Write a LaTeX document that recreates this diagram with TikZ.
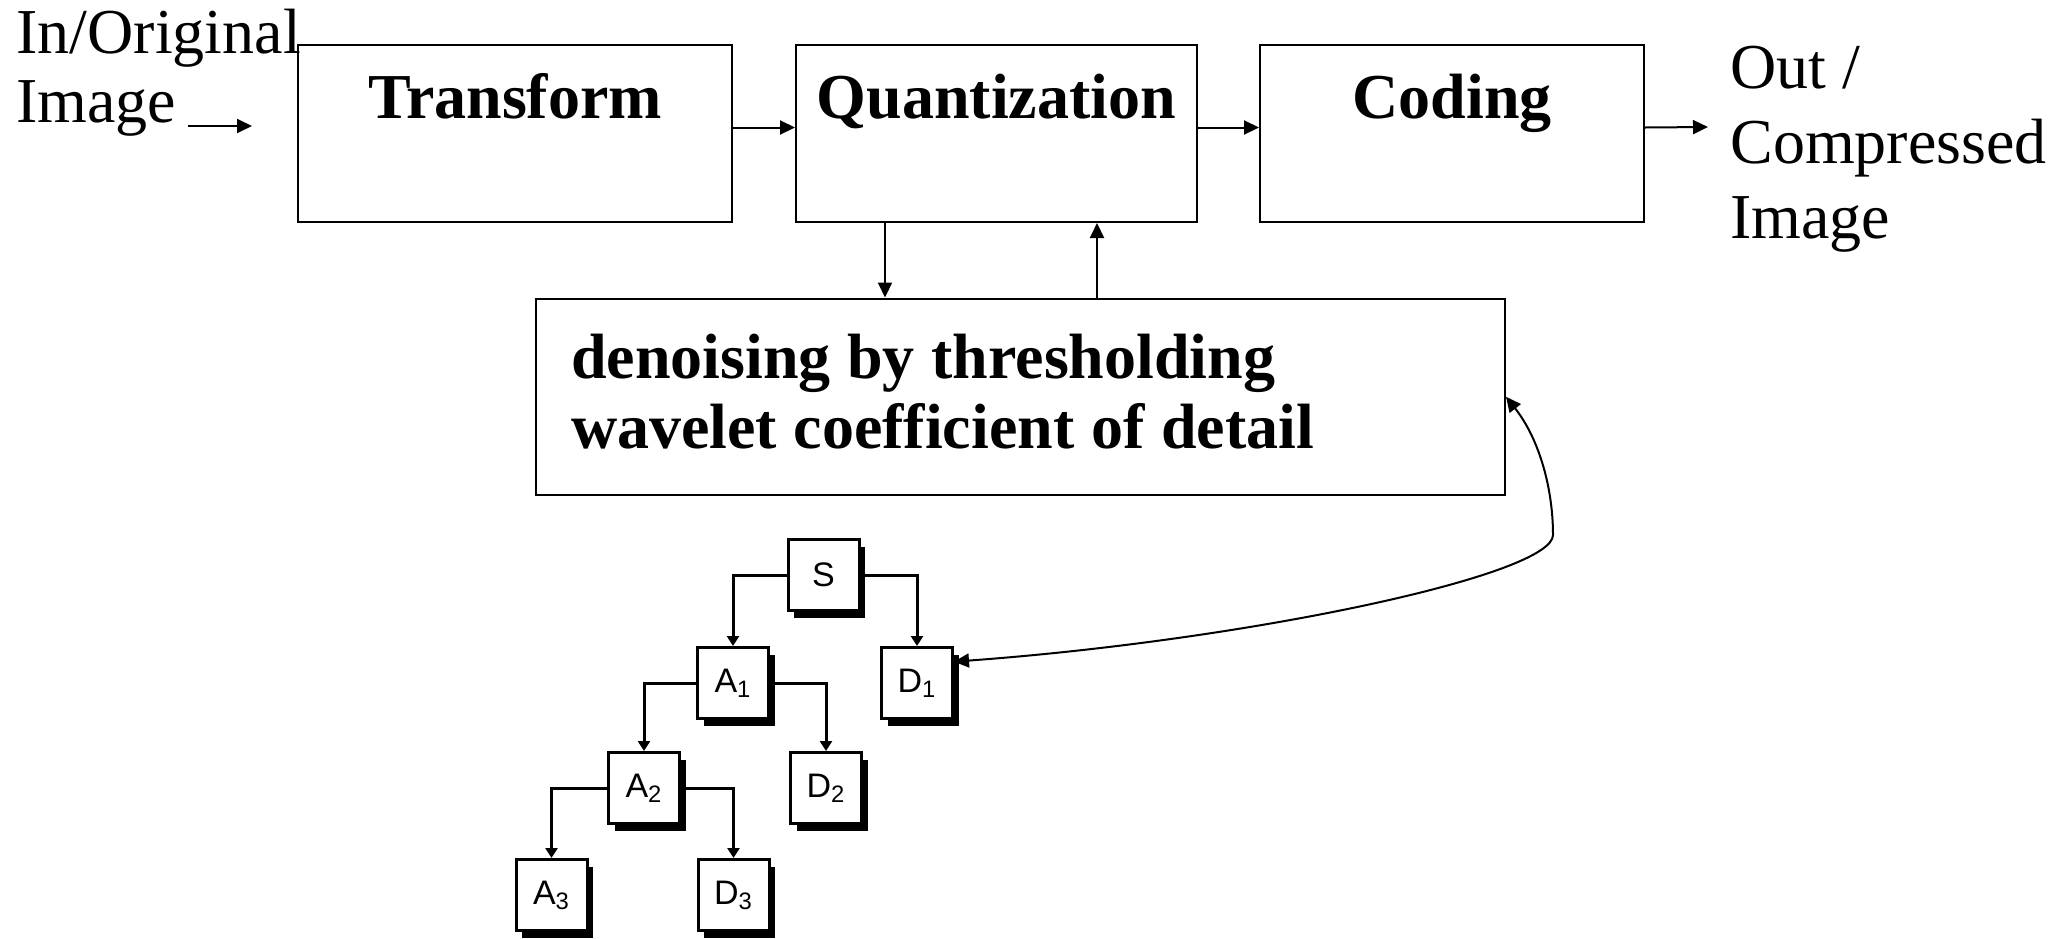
\documentclass[tikz,border=0pt]{standalone}
\usepackage{fontspec}
\setmainfont{Liberation Serif}
\setsansfont{Liberation Sans}
\usetikzlibrary{arrows.meta}
\usetikzlibrary{shadows}

\begin{document}
\begin{tikzpicture}[x=0.5pt, y=-0.5pt,
  bloc/.style={draw, line width=1pt, inner sep=0pt, minimum height=88.5pt,
    font=\fontsize{32}{35}\selectfont\bfseries, text height=22pt, text depth=37.5pt},
  fleche/.style={line width=1pt, -{Triangle[length=7.5pt,width=7pt]}},
  feuille/.style={draw, line width=1.5pt, fill=white, inner sep=0pt, minimum size=35.5pt,
    font=\sffamily\fontsize{17}{20}\selectfont,
    drop shadow={shadow xshift=3pt, shadow yshift=-3.5pt, opacity=1, fill=black}},
  branche/.style={line width=1.5pt, -{Triangle[length=5pt,width=6pt]}},
  legende/.style={align=left, inner sep=0pt, anchor=base west}]

  \useasboundingbox (0,0) rectangle (2071,938);

  % Chaîne de compression
  \node[bloc, minimum width=217pt] (tr) at (515,133.5) {Transform};
  \node[bloc, minimum width=200.5pt] (qu) at (996.5,133.5) {Quantization};
  \node[bloc, minimum width=192pt] (cd) at (1452,133.5) {Coding};
  \node[bloc, minimum width=484.5pt, minimum height=98.25pt, align=left,
        text width=449.5pt, inner xsep=17.5pt, text height=22pt, text depth=40pt]
    (dn) at (1020.5,396.75) {\spaceskip=0.26em denoising by thresholding\\wavelet coefficient of detail};

  % Entrée et sortie (ancre sur la dernière ligne)
  \node[legende, font=\fontsize{32}{34.5}\selectfont] (entree) at (16,122) {In/Original\\Image};
  \node[legende, font=\fontsize{32}{37.5}\selectfont] (sortie) at (1730,238) {Out /\\Compressed\\Image};
  \coordinate (inA) at (188,126);
  \coordinate (inB) at (252,126);
  \coordinate (outB) at (1708,127);

  \draw[fleche] (inA) -- (inB);
  \draw[fleche] ([yshift=3pt]tr.east) -- ([yshift=3pt]qu.west);
  \draw[fleche] ([yshift=3pt]qu.east) -- ([yshift=3pt]cd.west);
  \draw[fleche] ([yshift=3pt]cd.east) -- (outB);
  \draw[fleche] ([xshift=-55.75pt]qu.south) -- ([xshift=-55.75pt]qu.south |- dn.north);
  \draw[fleche] ([xshift=50.25pt]qu.south |- dn.north) -- ([xshift=50.25pt]qu.south);

  % Arbre de décomposition en ondelettes
  \node[feuille] (S) at (823.5,575) {S};
  \node[feuille] (A1) at (733,683) {A\textsubscript{1}};
  \node[feuille] (D1) at (917,683) {D\textsubscript{1}};
  \node[feuille] (A2) at (644,788) {A\textsubscript{2}};
  \node[feuille] (D2) at (826,788) {D\textsubscript{2}};
  \node[feuille] (A3) at (551.5,895) {A\textsubscript{3}};
  \node[feuille] (D3) at (733.5,895) {D\textsubscript{3}};

  \draw[branche] (S.west) -| (A1.north);
  \draw[branche] (S.east) -| (D1.north);
  \draw[branche] (A1.west) -| (A2.north);
  \draw[branche] (A1.east) -| (D2.north);
  \draw[branche] (A2.west) -| (A3.north);
  \draw[branche] (A2.east) -| (D3.north);

  % Lien entre le seuillage et les détails
  \draw[line width=1pt, {Triangle[length=7.5pt,width=7pt]}-{Triangle[length=7.5pt,width=7pt]}]
    (dn.east) .. controls (1540,440) and (1553,490) .. (1553,535)
    .. controls (1553,575) and (1250,640) .. (D1.30);

\end{tikzpicture}
\end{document}
